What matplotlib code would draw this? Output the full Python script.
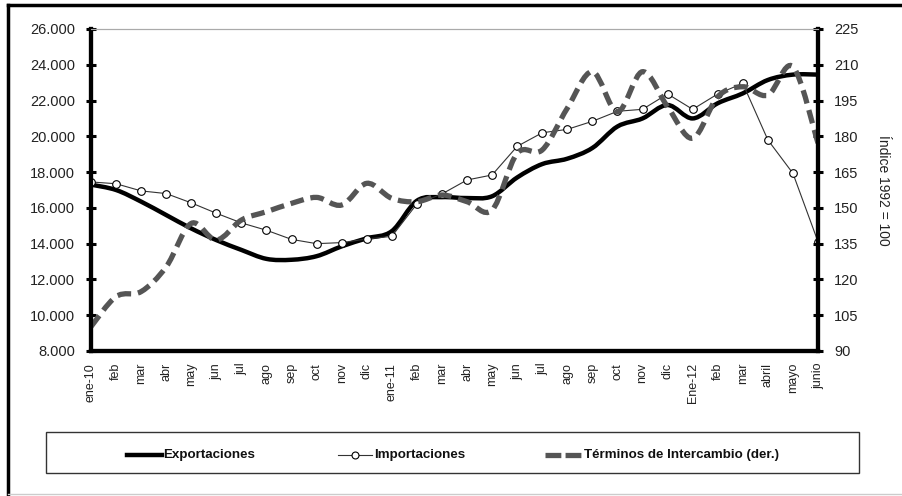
#!/usr/bin/env python3
"""Exportaciones, importaciones y términos de intercambio, ene-10 a junio-12."""

import matplotlib

matplotlib.use("Agg")
import matplotlib.pyplot as plt  # noqa: E402
from matplotlib import font_manager  # noqa: E402
from matplotlib.lines import Line2D  # noqa: E402
from matplotlib.patches import PathPatch, Rectangle  # noqa: E402
from matplotlib.path import Path  # noqa: E402
from matplotlib.ticker import FuncFormatter  # noqa: E402

months = ["ene-10", "feb", "mar", "abr", "may", "jun", "jul", "ago", "sep", "oct",
          "nov", "dic", "ene-11", "feb", "mar", "abr", "may", "jun", "jul", "ago",
          "sep", "oct", "nov", "dic", "Ene-12", "feb", "mar", "abril", "mayo", "junio"]

exportaciones = [17300, 17000, 16350, 15600, 14850, 14200, 13650, 13150, 13100, 13300,
                 13850, 14300, 14700, 16400, 16600, 16550, 16650, 17700, 18450, 18750,
                 19350, 20550, 21000, 21750, 21000, 21850, 22400, 23150, 23450, 23450]

importaciones = [17450, 17350, 16950, 16800, 16280, 15700, 15160, 14750, 14240, 14000,
                 14060, 14260, 14410, 16220, 16780, 17560, 17840, 19440, 20200, 20390,
                 20840, 21400, 21510, 22370, 21510, 22370, 22960, 19800, 17930, 14110]

terminos = [100.2, 112.8, 114.9, 125.3, 143.5, 136.5, 144.9, 148.4, 151.9, 154.4,
            151.2, 160.3, 154.0, 152.6, 155.4, 152.6, 149.1, 172.9, 174.3, 191.8,
            207.1, 190.3, 207.1, 192.4, 179.2, 196.6, 200.8, 197.3, 209.2, 177.1]

legend_labels = ["Exportaciones", "Importaciones", "Términos de Intercambio (der.)"]

W, H = 902, 496


def pick_font(names):
    have = {f.name for f in font_manager.fontManager.ttflist}
    for name in names:
        if name in have:
            return name
    return "DejaVu Sans"


FONT = pick_font(["Liberation Sans", "Arial"])
NARROW = pick_font(["Liberation Sans Narrow", "Liberation Sans"])
plt.rcParams["font.family"] = [FONT, "DejaVu Sans"]


def fx(px):
    return px / W


def fy(py):
    return 1 - py / H


def smooth_path(xs, ys):
    """Bezier path through the points, Excel-style smoothing (Catmull-Rom)."""
    pts = list(zip(xs, ys))
    verts = [pts[0]]
    codes = [Path.MOVETO]
    n = len(pts)
    for i in range(n - 1):
        p0 = pts[i - 1] if i > 0 else pts[i]
        p1 = pts[i]
        p2 = pts[i + 1]
        p3 = pts[i + 2] if i + 2 < n else pts[i + 1]
        c1 = (p1[0] + (p2[0] - p0[0]) / 6.0, p1[1] + (p2[1] - p0[1]) / 6.0)
        c2 = (p2[0] - (p3[0] - p1[0]) / 6.0, p2[1] - (p3[1] - p1[1]) / 6.0)
        verts += [c1, c2, p2]
        codes += [Path.CURVE4] * 3
    return Path(verts, codes)


fig = plt.figure(figsize=(W / 100, H / 100), dpi=100)
ax = fig.add_axes([fx(91), fy(351), (818 - 91) / W, (351 - 29) / H])
ax2 = ax.twinx()

xs = list(range(len(months)))

exp_color = "black"
imp_color = "#333333"
term_color = "#555555"
term_dash = (0, (2.6, 1.3))

ax.add_patch(PathPatch(smooth_path(xs, exportaciones), fill=False,
                       edgecolor=exp_color, linewidth=3.2, capstyle="round",
                       joinstyle="round", zorder=3))
ax.plot(xs, importaciones, color=imp_color, linewidth=0.8, marker="o",
        markersize=5.5, markerfacecolor="white", markeredgecolor="black",
        markeredgewidth=0.8, zorder=4)
ax2.add_patch(PathPatch(smooth_path(xs, terminos), fill=False,
                        edgecolor=term_color, linewidth=3.8, linestyle=term_dash,
                        capstyle="butt", zorder=2))

ax.set_xlim(0, len(months) - 1)
ax.set_ylim(8000, 26000)
ax2.set_ylim(90, 225)

ax.set_yticks(range(8000, 26001, 2000))
ax.yaxis.set_major_formatter(FuncFormatter(lambda v, _: f"{int(v):,}".replace(",", ".")))
ax2.set_yticks(range(90, 226, 15))

ax.set_xticks(xs)
ax.set_xticklabels(months, rotation=90, fontsize=9, family=[NARROW, "DejaVu Sans"],
                   color="#222222")
ax.set_xticks([0, 6, 12, 18, 24], minor=True)
ax.tick_params(axis="x", which="major", length=0, pad=8.5)
ax.tick_params(axis="x", which="minor", length=6, width=2.5, direction="inout",
               color="black")
for a in (ax, ax2):
    a.tick_params(axis="y", length=7, width=2.2, direction="inout", labelsize=10.5,
                  pad=8, labelcolor="#222222")
    for side in ("left", "right", "bottom"):
        a.spines[side].set_linewidth(3)
        a.spines[side].set_color("black")
    a.spines["top"].set_linewidth(0.8)
    a.spines["top"].set_color("#aaaaaa")

ax2.set_ylabel("Índice 1992 = 100", rotation=270, fontsize=10, color="#222222",
               labelpad=23)

# legend, drawn by hand inside its box
fig.add_artist(Rectangle((fx(46), fy(473)), (859 - 46) / W, 41 / H,
                         transform=fig.transFigure, fill=False,
                         edgecolor="#333333", linewidth=1))
ly = fy(455)
fig.add_artist(Line2D([fx(127), fx(162)], [ly, ly], transform=fig.transFigure,
                      color=exp_color, linewidth=3.2))
fig.add_artist(Line2D([fx(338), fx(372)], [ly, ly], transform=fig.transFigure,
                      color=imp_color, linewidth=0.8))
fig.add_artist(Line2D([fx(355)], [ly], transform=fig.transFigure, marker="o",
                      markersize=5, markerfacecolor="white", markeredgecolor="black",
                      markeredgewidth=0.8))
fig.add_artist(Line2D([fx(545), fx(583)], [ly, ly], transform=fig.transFigure,
                      color=term_color, linewidth=3.8, linestyle=(0, (3, 0.8))))
for x0, label in zip([163, 374, 584], legend_labels):
    fig.text(fx(x0), ly, label, ha="left", va="center", fontsize=9.6,
             fontweight="bold", color="#111111")

# outer frame
fig.add_artist(Line2D([fx(8), fx(8)], [fy(5), fy(494)], transform=fig.transFigure,
                      color="black", linewidth=2.5))
fig.add_artist(Line2D([fx(8), 1.0], [fy(5), fy(5)], transform=fig.transFigure,
                      color="black", linewidth=2.5))
fig.add_artist(Line2D([fx(8), 1.0], [fy(494), fy(494)], transform=fig.transFigure,
                      color="#cccccc", linewidth=1))

fig.savefig("out.png", dpi=100)
